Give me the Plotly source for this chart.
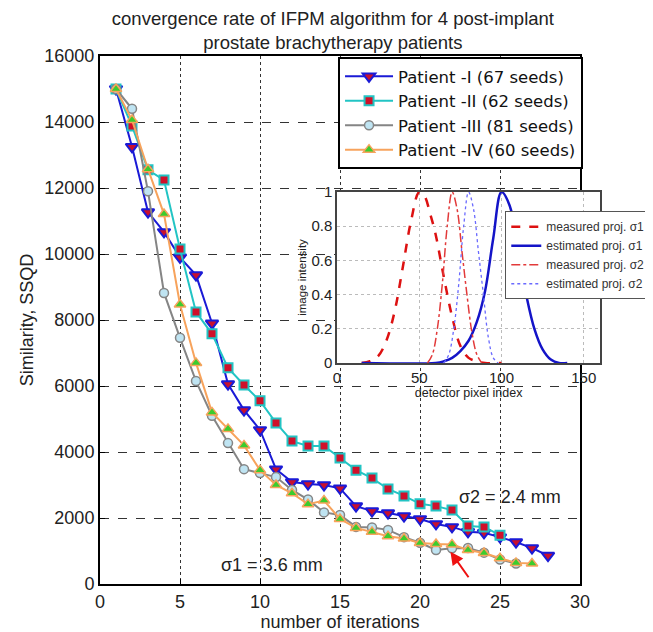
import plotly.graph_objects as go

# main plot: SSQD vs iteration for the 4 patients
iters_I = list(range(1, 29))
ssqd_I = [15000, 13250, 11270, 10670, 9900, 9360, 7900, 6060, 5270, 4670,
          3480, 3090, 3030, 3000, 2900, 2360, 2210, 2150, 2060, 1970,
          1820, 1730, 1580, 1550, 1420, 1270, 1090, 860]

iters_II = list(range(1, 26))
ssqd_II = [15000, 13880, 12550, 12240, 10150, 8240, 7580, 6550, 6030, 5550,
           4880, 4330, 4180, 4180, 3820, 3450, 3210, 2880, 2670, 2430,
           2360, 2240, 1760, 1730, 1480]

iters_III = list(range(1, 27))
ssqd_III = [15000, 14400, 11900, 8820, 7460, 6150, 5100, 4270, 3480, 3360,
            3240, 2850, 2560, 2170, 2090, 1730, 1710, 1640, 1420, 1250,
            1030, 1080, 1090, 950, 740, 620]

iters_IV = list(range(1, 28))
ssqd_IV = [15000, 14060, 12570, 11210, 8470, 6700, 5200, 4700, 4200, 3450,
           3000, 2750, 2420, 2530, 1970, 1700, 1580, 1450, 1380, 1240,
           1210, 1200, 1030, 940, 780, 640, 620]

names = ["Patient -I (67 seeds)", "Patient -II (62 seeds)",
         "Patient -III (81 seeds)", "Patient -IV (60 seeds)"]

# inset: projection profiles
pix_m1 = [15, 20, 25, 30, 35, 40, 45, 50, 53, 57, 60, 65, 70, 75, 80, 85, 90, 100]
int_m1 = [0, 0.01, 0.04, 0.13, 0.3, 0.56, 0.83, 1.0, 0.98, 0.86, 0.75, 0.5, 0.27, 0.1, 0.03, 0.01, 0, 0]
pix_e1 = [15, 60, 65, 70, 75, 80, 85, 90, 95, 100, 105, 110, 115, 120, 125, 130, 135, 140]
int_e1 = [0, 0, 0.01, 0.03, 0.07, 0.13, 0.24, 0.42, 0.73, 1.0, 0.92, 0.66, 0.4, 0.2, 0.08, 0.02, 0, 0]
pix_m2 = [55, 58, 61, 64, 67, 70, 73, 76, 79, 82, 85, 88]
int_m2 = [0, 0.05, 0.2, 0.46, 0.8, 1.0, 0.9, 0.65, 0.4, 0.18, 0.05, 0]
pix_e2 = [65, 68, 71, 74, 77, 80, 83, 86, 89, 92, 95, 98]
int_e2 = [0, 0.05, 0.2, 0.46, 0.8, 1.0, 0.9, 0.65, 0.4, 0.15, 0.03, 0]
inset_names = ["measured proj. σ1", "estimated proj. σ1",
               "measured proj. σ2", "estimated proj. σ2"]

FONT = "Liberation Sans, Arial, sans-serif"

fig = go.Figure()

fig.add_trace(go.Scatter(x=iters_I, y=ssqd_I, name=names[0], mode="lines+markers",
                         line=dict(color="#1a1ad6", width=2),
                         marker=dict(symbol="triangle-down", size=11, color="#c8102e",
                                     line=dict(color="#1a1ad6", width=2))))
fig.add_trace(go.Scatter(x=iters_II, y=ssqd_II, name=names[1], mode="lines+markers",
                         line=dict(color="#22c4c4", width=2),
                         marker=dict(symbol="square", size=9, color="#d0102a",
                                     line=dict(color="#22c4c4", width=2))))
fig.add_trace(go.Scatter(x=iters_III, y=ssqd_III, name=names[2], mode="lines+markers",
                         line=dict(color="#858585", width=2),
                         marker=dict(symbol="circle", size=9, color="#bfe4f2",
                                     line=dict(color="#858585", width=1.5))))
fig.add_trace(go.Scatter(x=iters_IV, y=ssqd_IV, name=names[3], mode="lines+markers",
                         line=dict(color="#f7a35c", width=2),
                         marker=dict(symbol="triangle-up", size=10, color="#3bcc2e",
                                     line=dict(color="#f7a35c", width=1.5))))

inset_style = [
    dict(color="#dd1111", width=2.5, dash="dash"),
    dict(color="#1414c8", width=2.5, dash="solid"),
    dict(color="#e23a3a", width=1.5, dash="dashdot"),
    dict(color="#6a6aff", width=1.3, dash="dot"),
]
for px_, iy, nm, st in zip([pix_m1, pix_e1, pix_m2, pix_e2],
                           [int_m1, int_e1, int_m2, int_e2], inset_names, inset_style):
    fig.add_trace(go.Scatter(x=px_, y=iy, name=nm, mode="lines", line=st,
                             line_shape="spline", xaxis="x2", yaxis="y2",
                             legend="legend2"))

# page body has an 8px margin, so the figure is 8px smaller than the window
fig.update_layout(
    width=645, height=624,
    margin=dict(l=92, r=40, t=48, b=48, autoexpand=False),
    paper_bgcolor="white", plot_bgcolor="white",
    font=dict(family=FONT, size=18, color="#222"),
    title=dict(text="convergence rate of IFPM algorithm for 4 post-implant<br>prostate brachytherapy patients",
               x=0.454, xref="paper", xanchor="center",
               yref="container", y=0.9735, yanchor="middle",
               font=dict(size=18.5)),
    xaxis=dict(domain=[0, 0.9357], range=[0, 30], tickvals=[0, 5, 10, 15, 20, 25, 30],
               showline=True, linecolor="black", linewidth=2, mirror=True,
               ticks="inside", ticklen=5, tickcolor="black",
               showgrid=True, gridcolor="#333", griddash="dot", gridwidth=1,
               zeroline=False,
               title=dict(text="number of iterations", standoff=2, font=dict(size=18))),
    yaxis=dict(domain=[0, 1], range=[0, 16000], tickvals=list(range(0, 16001, 2000)),
               tickformat="d",
               showline=True, linecolor="black", linewidth=2, mirror=True,
               ticks="inside", ticklen=5, tickcolor="black",
               showgrid=True, gridcolor="#333", griddash="dash", gridwidth=1,
               zeroline=False,
               title=dict(text="Similarity, SSQD", standoff=6, font=dict(size=18))),
    xaxis2=dict(domain=[0.462, 0.975], anchor="y2", range=[0, 160],
                tickvals=[0, 50, 100, 150],
                showline=True, linecolor="#444", linewidth=1.5, mirror=True,
                ticks="", showgrid=True, gridcolor="#bbb", griddash="dot",
                zeroline=False, tickfont=dict(size=15),
                title=dict(text="detector pixel index", standoff=2, font=dict(size=12.5))),
    yaxis2=dict(domain=[0.4186, 0.7424], anchor="x2", range=[0, 1],
                tickvals=[0, 0.2, 0.4, 0.6, 0.8, 1], ticktext=["0", "0.2", "0.4", "0.6", "0.8", "1"],
                showline=True, linecolor="#444", linewidth=1.5, mirror=True,
                ticks="", showgrid=True, gridcolor="#bbb", griddash="dot",
                zeroline=False, tickfont=dict(size=15),
                title=dict(text="image intensity", standoff=2, font=dict(size=11.5))),
    legend=dict(x=0.464, y=0.998, xanchor="left", yanchor="top",
                bgcolor="white", bordercolor="black", borderwidth=2,
                font=dict(family="DejaVu Sans, sans-serif", size=16.5, color="#111"),
                tracegroupgap=0, itemwidth=48),
    legend2=dict(x=0.79, y=0.706, xanchor="left", yanchor="top",
                 bgcolor="white", bordercolor="#555", borderwidth=1,
                 font=dict(size=12, color="#333"), itemwidth=30),
    showlegend=True,
    annotations=[
        dict(x=10.75, y=575, xref="x", yref="y", text="σ1 = 3.6 mm", showarrow=False,
             font=dict(size=18, color="#222")),
        dict(x=25.6, y=2640, xref="x", yref="y", text="σ2 = 2.4 mm", showarrow=False,
             font=dict(size=18, color="#222")),
        dict(x=21.9, y=980, xref="x", yref="y", ax=23.1, ay=160, axref="x", ayref="y",
             text="", showarrow=True, arrowhead=2, arrowsize=1.3, arrowwidth=2,
             arrowcolor="#ee1111"),
    ],
)

fig.write_html("out.html")
